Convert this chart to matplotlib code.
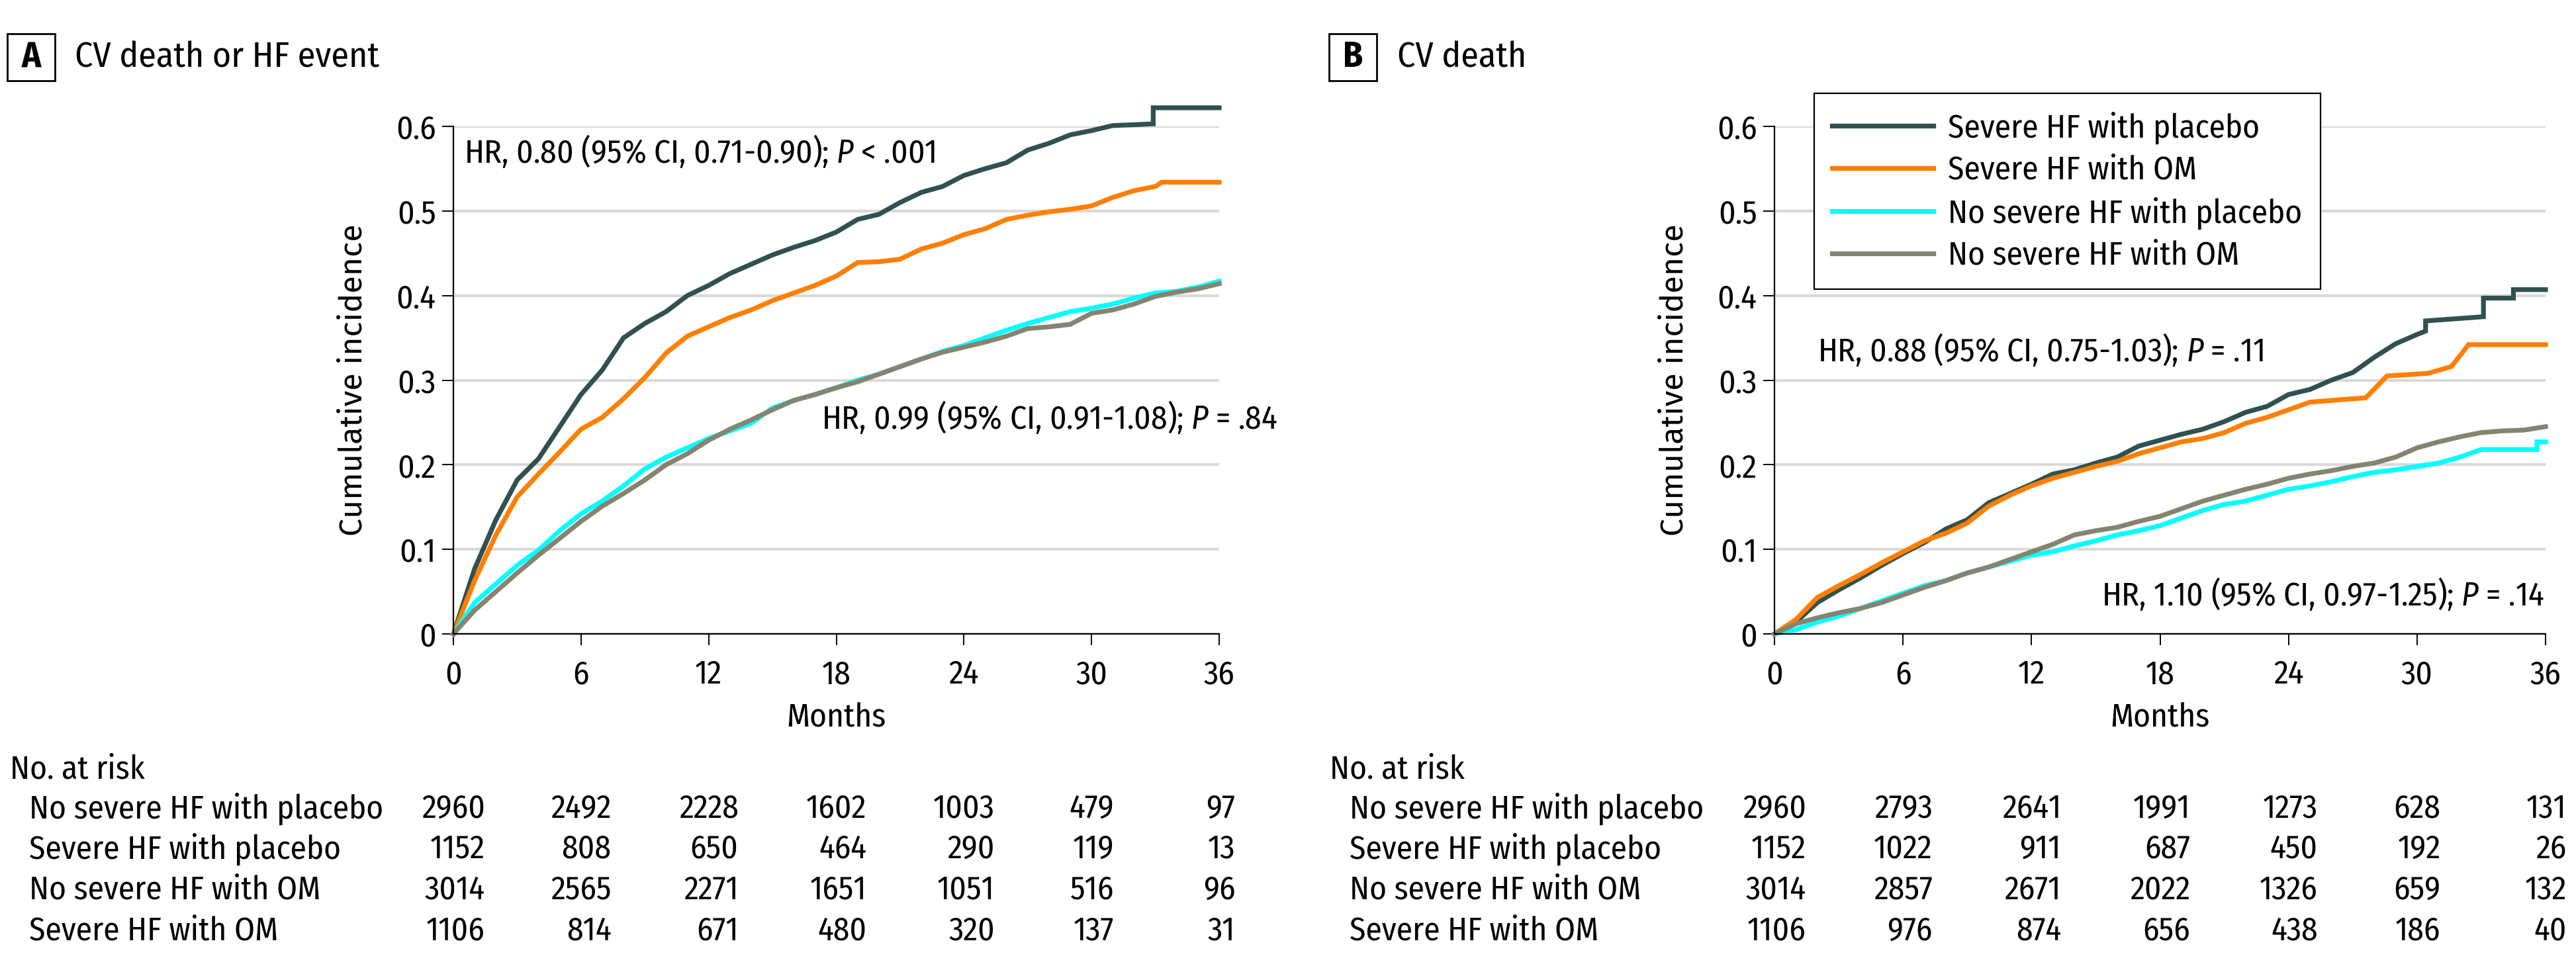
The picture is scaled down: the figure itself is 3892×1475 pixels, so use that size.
import numpy as np
import matplotlib
matplotlib.use('Agg')
import matplotlib.pyplot as plt
from matplotlib import font_manager as fm
from matplotlib import transforms as mtrans
from matplotlib.patches import Rectangle

# ---- data ----
groups = ['Severe HF with placebo', 'Severe HF with OM',
          'No severe HF with placebo', 'No severe HF with OM']
colors = ['#2F5150', '#FF7F00', '#00FFFF', '#858470']

# panel A: CV death or HF event
a_sev_pbo_t = list(range(0, 33)) + [32.9, 32.9, 36]
a_sev_pbo = [0, .077, .135, .182, .207, .245, .283, .312, .350, .367, .381, .400,
             .412, .426, .437, .448, .457, .465, .475, .490, .496, .510, .522, .529,
             .542, .550, .557, .572, .580, .590, .595, .601, .602, .603, .622, .622]
a_sev_om_t = list(range(0, 34)) + [33.3, 36]
a_sev_om = [0, .063, .117, .162, .189, .215, .242, .256, .278, .303, .332, .352,
            .363, .374, .383, .394, .403, .412, .423, .439, .440, .443, .455, .462,
            .472, .479, .490, .495, .499, .502, .506, .516, .524, .529, .534, .534]
a_nosev_pbo_t = list(range(0, 37))
a_nosev_pbo = [0, .037, .059, .081, .099, .122, .142, .157, .175, .195, .209, .220,
               .231, .240, .249, .267, .276, .283, .291, .300, .307, .316, .325, .334,
               .341, .350, .359, .367, .374, .381, .385, .390, .397, .403, .405, .410, .417]
a_nosev_om_t = list(range(0, 37))
a_nosev_om = [0, .028, .050, .072, .093, .113, .133, .151, .166, .182, .200, .213,
              .229, .242, .253, .265, .276, .283, .291, .298, .307, .316, .325, .333,
              .339, .345, .352, .361, .363, .366, .379, .383, .390, .399, .404, .408, .414]

# panel B: CV death
b_sev_pbo_t = list(range(0, 31)) + [30.4, 30.4, 33.1, 33.1, 34.5, 34.5, 36]
b_sev_pbo = [0, .014, .037, .052, .066, .081, .095, .108, .124, .135, .155, .166,
             .177, .189, .194, .202, .209, .222, .229, .236, .242, .251, .262, .269,
             .283, .289, .300, .309, .327, .343, .354, .358, .370, .375, .397, .397,
             .407, .407]
b_sev_om_t = list(range(0, 27)) + [27, 27.6, 28.6, 30.5, 31.6, 32.1, 32.4, 36]
b_sev_om = [0, .017, .043, .057, .070, .084, .097, .110, .119, .131, .151, .164,
            .175, .184, .191, .198, .204, .213, .220, .227, .231, .238, .249, .256,
            .265, .274, .276, .278, .279, .305, .308, .316, .332, .342, .342]
b_nosev_pbo_t = list(range(0, 34)) + [35.6, 35.6, 36]
b_nosev_pbo = [0, .005, .014, .021, .030, .039, .048, .057, .063, .072, .079, .086,
               .093, .097, .104, .110, .117, .122, .128, .137, .146, .153, .157, .164,
               .171, .175, .180, .186, .191, .194, .198, .202, .209, .218, .218, .227, .227]
b_nosev_om_t = list(range(0, 37))
b_nosev_om = [0, .012, .019, .025, .030, .037, .046, .055, .063, .072, .079, .088,
              .097, .106, .117, .122, .126, .133, .139, .148, .157, .164, .171, .177,
              .184, .189, .193, .198, .202, .209, .220, .227, .233, .238, .240, .241, .245]

# numbers at risk
risk_rows = ['No severe HF with placebo', 'Severe HF with placebo',
             'No severe HF with OM', 'Severe HF with OM']
risk_months = [0, 6, 12, 18, 24, 30, 36]
risk_a = [[2960, 2492, 2228, 1602, 1003, 479, 97],
          [1152, 808, 650, 464, 290, 119, 13],
          [3014, 2565, 2271, 1651, 1051, 516, 96],
          [1106, 814, 671, 480, 320, 137, 31]]
risk_b = [[2960, 2793, 2641, 1991, 1273, 628, 131],
          [1152, 1022, 911, 687, 450, 192, 26],
          [3014, 2857, 2671, 2022, 1326, 659, 132],
          [1106, 976, 874, 656, 438, 186, 40]]

hr_a = ['HR, 0.80 (95% CI, 0.71-0.90); $P$ < .001', 'HR, 0.99 (95% CI, 0.91-1.08); $P$ = .84']
hr_b = ['HR, 0.88 (95% CI, 0.75-1.03); $P$ = .11', 'HR, 1.10 (95% CI, 0.97-1.25); $P$ = .14']

# ---- fonts ----
names = {f.name for f in fm.fontManager.ttflist}
cond = next((n for n in ['Fira Sans Condensed', 'PT Sans Narrow', 'Roboto Condensed',
                         'Open Sans Condensed', 'Asap Condensed', 'Archivo Narrow',
                         'Liberation Sans Narrow'] if n in names), 'DejaVu Sans')
wide = next((n for n in ['Fira Sans', 'Open Sans', 'Noto Sans', 'DejaVu Sans'] if n in names), 'DejaVu Sans')
plt.rcParams['font.family'] = [cond, 'DejaVu Sans']
plt.rcParams['mathtext.fontset'] = 'custom'
plt.rcParams['mathtext.rm'] = cond
plt.rcParams['mathtext.it'] = cond + ':italic'

W, H = 3892, 1475
fig = plt.figure(figsize=(W / 100, H / 100), dpi=100)
renderer = fig.canvas.get_renderer()


def width_px(s, **kw):
    t = fig.text(0, 0, s, **kw)
    w = t.get_window_extent(renderer).width
    t.remove()
    return w


fs = 30 * 535 / width_px('No severe HF with placebo', fontsize=30)
fs_title = 30 * 460 / width_px('CV death or HF event', fontsize=30)
fs_ylab = 30 * 471 / width_px('Cumulative incidence', fontsize=30, family=wide)


def panel(left, width, letter, title, box_x, title_x, series, hr, hr_pos, risk,
          head_x, row_x, legend=False):
    ax = fig.add_axes([left / W, 1 - 958 / H, width / W, 767 / H])
    for (t, v), c, lab in zip(series, colors, groups):
        ax.plot(t, v, color=c, lw=5.2, label=lab, clip_on=False, zorder=3,
                solid_joinstyle='miter')
    ax.set_xlim(0, 36)
    ax.set_ylim(0, 0.6)
    ax.set_xticks(risk_months)
    ax.set_yticks(np.arange(0, 0.61, 0.1))
    ax.set_yticklabels(['0', '0.1', '0.2', '0.3', '0.4', '0.5', '0.6'])
    ax.yaxis.grid(True, color='#d9d9d9', lw=3)
    ax.set_axisbelow(True)
    for s in ['top', 'right']:
        ax.spines[s].set_visible(False)
    for s in ['left', 'bottom']:
        ax.spines[s].set_linewidth(1.6)
        ax.spines[s].set_zorder(4)
    ax.tick_params(axis='x', length=12, width=1.4, pad=15, labelsize=fs)
    ax.tick_params(axis='y', length=12, width=1.4, pad=7, labelsize=fs)
    ax.set_xlabel('Months', fontsize=fs)
    ax.xaxis.set_label_coords(0.5, -(1085 - 958) / 767)
    ax.xaxis.label.set_va('center')
    ax.set_ylabel('Cumulative incidence', fontsize=fs_ylab, family=wide)
    ax.yaxis.set_label_coords(-151 / width, 0.5)
    ax.yaxis.label.set_va('center')

    for s, (x, y, ha) in zip(hr, hr_pos):
        ax.text(x, y, s, fontsize=fs, ha=ha, va='center', clip_on=False, zorder=5)

    if legend:
        leg = ax.legend(loc='upper left', bbox_to_anchor=(60 / width, (792 + 25) / 767),
                        fontsize=fs, frameon=True, fancybox=False, edgecolor='black',
                        framealpha=1, handlelength=3.1, handletextpad=0.45,
                        labelspacing=0.32, borderpad=0.55, borderaxespad=0)
        leg.get_frame().set_linewidth(1.6)
        for ln in leg.get_lines():
            ln.set_linewidth(5.2)

    # panel header
    fig.patches.append(Rectangle((box_x / W, 1 - 122 / H), 72 / W, 71 / H, fill=False,
                                 lw=2, edgecolor='black', transform=fig.transFigure))
    fig.text((box_x + 36) / W, 1 - 87 / H, letter, fontsize=fs_title, weight='bold',
             ha='center', va='center')
    fig.text(title_x / W, 1 - 87 / H, title, fontsize=fs_title, ha='left', va='center')

    # numbers at risk
    fig.text(head_x / W, 1 - 1163 / H, 'No. at risk', fontsize=fs, ha='left', va='center')
    row_y = [1222, 1283, 1345, 1407]
    blend = mtrans.blended_transform_factory(ax.transData, fig.transFigure)
    for r, lab in enumerate(risk_rows):
        fig.text(row_x / W, 1 - row_y[r] / H, lab, fontsize=fs, ha='left', va='center')
    for j, m in enumerate(risk_months):
        col = [str(risk[r][j]) for r in range(4)]
        wmax = max(width_px(s, fontsize=fs) for s in col)
        tr = mtrans.offset_copy(blend, fig=fig, x=wmax / 2, y=0, units='dots')
        for r, s in enumerate(col):
            ax.text(m, 1 - row_y[r] / H, s, fontsize=fs, ha='right', va='center',
                    transform=tr, clip_on=False)
    return ax


panel(685, 1157, 'A', 'CV death or HF event', 11, 113,
      [(a_sev_pbo_t, a_sev_pbo), (a_sev_om_t, a_sev_om),
       (a_nosev_pbo_t, a_nosev_pbo), (a_nosev_om_t, a_nosev_om)],
      hr_a, [(0.5, 0.570, 'left'), (17.3, 0.256, 'left')], risk_a, 15, 44)

panel(2681, 1165, 'B', 'CV death', 2008, 2111,
      [(b_sev_pbo_t, b_sev_pbo), (b_sev_om_t, b_sev_om),
       (b_nosev_pbo_t, b_nosev_pbo), (b_nosev_om_t, b_nosev_om)],
      hr_b, [(2.0, 0.336, 'left'), (35.95, 0.047, 'right')], risk_b, 2009, 2039,
      legend=True)

fig.savefig('out.png', dpi=100)
